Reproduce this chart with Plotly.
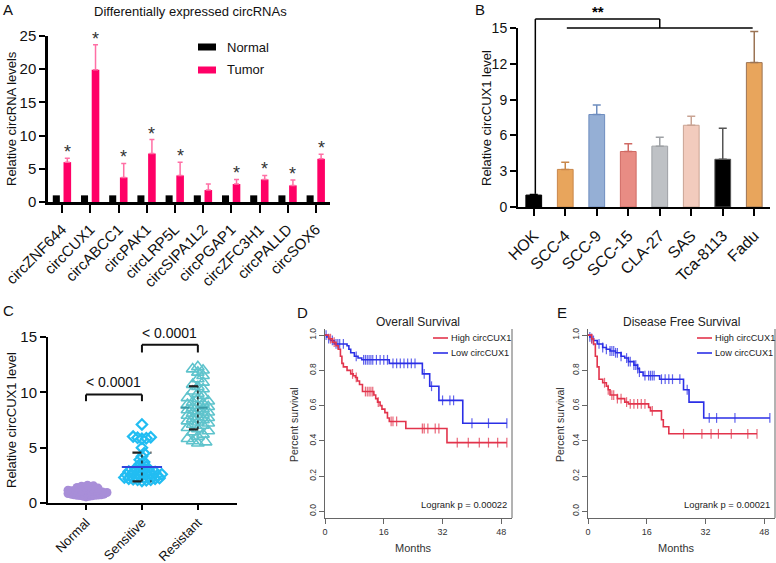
import plotly.graph_objects as go
import numpy as np

W, H = 776, 563
FONT = "Liberation Sans, Arial, sans-serif"

# ---------------- DATA ----------------
# Panel A
a_categories = ["circZNF644", "circCUX1", "circABCC1", "circPAK1", "circLRP5L",
                "circSIPA1L2", "circPGAP1", "circZFC3H1", "circPALLD", "circSOX6"]
a_normal = [1.0, 1.0, 1.0, 1.0, 1.0, 1.0, 1.0, 1.0, 1.0, 1.0]
a_tumor = [6.0, 19.9, 3.7, 7.3, 4.0, 1.8, 2.7, 3.4, 2.5, 6.5]
a_tumor_err = [0.6, 3.8, 2.1, 2.1, 2.0, 0.9, 0.7, 0.6, 0.8, 0.7]
a_signif = ["*", "*", "*", "*", "*", "", "*", "*", "*", "*"]

# Panel B
b_categories = ["HOK", "SCC-4", "SCC-9", "SCC-15", "CLA-27", "SAS", "Tca-8113", "Fadu"]
b_values = [1.0, 3.15, 7.75, 4.65, 5.1, 6.85, 4.0, 12.1]
b_err = [0.05, 0.6, 0.8, 0.65, 0.75, 0.75, 2.6, 2.6]

# Panel C
c_categories = ["Normal", "Sensitive", "Resistant"]
c_normal = [0.55, 0.6, 0.62, 0.65, 0.68, 0.7, 0.7, 0.72, 0.75, 0.75, 0.78, 0.8, 0.8, 0.82,
            0.85, 0.85, 0.88, 0.9, 0.9, 0.92, 0.95, 0.95, 0.98, 1.0, 1.0, 1.02, 1.05, 1.05,
            1.08, 1.1, 1.1, 1.12, 1.15, 1.18, 1.2, 1.22, 1.25, 1.28, 1.3, 1.32, 1.35, 1.38,
            1.4, 1.45, 1.5, 1.52, 1.55, 1.6]
c_sensitive = [2.0, 2.05, 2.1, 2.1, 2.15, 2.2, 2.2, 2.25, 2.3, 2.3, 2.35, 2.4, 2.4, 2.45,
               2.5, 2.5, 2.55, 2.6, 2.6, 2.65, 2.7, 2.7, 2.75, 2.8, 2.85, 2.9, 2.95, 3.0,
               3.1, 3.2, 3.3, 3.5, 3.7, 3.9, 4.2, 4.5, 5.0, 5.8, 5.85, 5.9, 5.95, 6.0, 7.1]
c_resistant = [5.4, 5.5, 5.6, 5.8, 6.0, 6.2, 6.4, 6.5, 6.7, 6.8, 7.0, 7.1, 7.2, 7.3, 7.4,
               7.5, 7.6, 7.7, 7.8, 7.9, 8.0, 8.1, 8.2, 8.3, 8.4, 8.5, 8.6, 8.7, 8.8, 8.9,
               9.0, 9.1, 9.2, 9.4, 9.5, 9.7, 9.9, 10.1, 10.3, 10.5, 10.7, 10.9, 11.2,
               11.5, 11.8, 12.0, 12.1, 12.3]
c_mean = [1.0, 3.25, 8.6]
c_sd = [0.3, 1.3, 1.95]
c_pvalues = ["< 0.0001", "< 0.0001"]

# Panel D (Overall survival)
d_high_t = [0, 1, 2, 3, 3.6, 4.2, 4.6, 5, 6, 7, 7.7, 8.3, 8.8, 9.4, 10.2, 13.3, 13.8, 14.3,
            15, 15.5, 16.3, 17, 17.5, 22, 33.2, 49.5]
d_high_s = [1.0, 0.98, 0.96, 0.94, 0.92, 0.88, 0.84, 0.82, 0.80, 0.78, 0.77, 0.76, 0.74,
            0.72, 0.68, 0.66, 0.64, 0.62, 0.60, 0.58, 0.56, 0.53, 0.51, 0.47, 0.39, 0.39]
d_low_t = [0, 0.5, 1, 1.5, 2.5, 6, 6.5, 7, 8, 9, 10, 17.5, 26.5, 28.5, 31, 37.5, 49.5]
d_low_s = [1.0, 0.99, 0.98, 0.97, 0.95, 0.94, 0.92, 0.90, 0.88, 0.87, 0.86, 0.84, 0.78,
           0.71, 0.63, 0.50, 0.50]
d_high_cens = [1.5, 2.5, 7.5, 8.5, 11, 11.5, 12, 12.5, 13, 14.5, 18, 18.5, 19.5, 26.5, 27,
               28, 30, 31, 36, 39, 42, 44.5, 47, 49.5]
d_low_cens = [0.3, 1, 2, 3, 3.5, 4, 5, 8.5, 10.5, 11, 11.5, 12, 12.5, 13, 14, 15, 16, 17,
              18.5, 19.5, 20.5, 21.5, 22.5, 23.5, 24.5, 27, 29, 32, 34, 35, 40, 44.5, 49.5]

# Panel E (Disease free survival)
e_high_t = [0, 1, 1.5, 2, 2.5, 3, 4, 5, 5.5, 6, 8, 10, 11, 16.5, 17, 20, 20.5, 22, 46]
e_high_s = [1.0, 0.98, 0.95, 0.88, 0.82, 0.75, 0.73, 0.71, 0.69, 0.66, 0.64, 0.62, 0.61,
            0.59, 0.57, 0.52, 0.48, 0.44, 0.44]
e_low_t = [0, 0.5, 1, 1.5, 2.5, 4, 5, 6, 7.5, 9, 10, 11, 12.5, 13.5, 14, 15, 19.5, 26, 27.5,
           31.5, 49.5]
e_low_s = [1.0, 0.99, 0.98, 0.97, 0.95, 0.93, 0.92, 0.91, 0.90, 0.88, 0.87, 0.85, 0.83,
           0.81, 0.79, 0.77, 0.75, 0.69, 0.62, 0.53, 0.53]
e_high_cens = [1, 4.5, 5.5, 6.5, 7, 8, 9, 10.5, 11.5, 12.5, 13.5, 14.5, 15.5, 17.5, 26, 31,
               33.5, 35.5, 39, 43.5, 46]
e_low_cens = [0.5, 1, 1.5, 3, 4, 5, 6, 6.5, 7, 7.5, 8, 9, 10.5, 11, 11.5, 12.5, 13, 13.5,
              14, 15.5, 16.5, 17, 17.5, 18, 20, 21, 22, 23, 25, 27, 33, 35, 40, 49.5]
km_months_ticks = [0, 16, 32, 48]
km_surv_ticks = [0.0, 0.2, 0.4, 0.6, 0.8, 1.0]

# ---------------- STYLE ----------------
B_FILL = ["#000000", "#E8A55C", "#95AFD5", "#E88C84", "#BEC1C5", "#F2CBBD", "#000000", "#E8A55C"]
B_EDGE = ["#000000", "#C9874A", "#6E8DBF", "#D06A64", "#9EA1A5", "#C9A393", "#555555", "#9B7455"]
RED = "#E2344C"
BLUE = "#2B2FE6"


def px(x, y):
    return x / W, 1 - y / H


def xdom(x0, x1):
    return [x0 / W, x1 / W]


def ydom(top, bottom):
    return [1 - bottom / H, 1 - top / H]


fig = go.Figure()
shapes = []
ann = []


def note(xx, yy, text, size, color="#111", xanchor="center", angle=0, yanchor="middle"):
    x, y = px(xx, yy)
    ann.append(dict(x=x, y=y, xref="paper", yref="paper", text=text, showarrow=False,
                    xanchor=xanchor, yanchor=yanchor, textangle=angle,
                    font=dict(size=size, color=color, family=FONT)))


# ---------------- Panel A ----------------
fig.add_trace(go.Bar(x=list(range(len(a_categories))), y=a_normal, width=0.25, offset=-0.33,
                     marker=dict(color="#000000", line=dict(width=0)),
                     xaxis="x", yaxis="y", showlegend=False))
fig.add_trace(go.Bar(x=list(range(len(a_categories))), y=a_tumor, width=0.27, offset=0.05,
                     marker=dict(color="#FF0066", line=dict(width=0)),
                     error_y=dict(type="data", symmetric=False, array=a_tumor_err,
                                  arrayminus=[0] * len(a_tumor), color="#FF6FA5",
                                  thickness=1.5, width=2.5),
                     xaxis="x", yaxis="y", showlegend=False))
for i, s in enumerate(a_signif):
    if s:
        ann.append(dict(x=i + 0.185, y=a_tumor[i] + a_tumor_err[i], xref="x", yref="y",
                        text=s, showarrow=False, xanchor="center", yanchor="bottom", yshift=-6,
                        font=dict(size=18, color="#333333", family=FONT)))
note(190, 11, "Differentially expressed circRNAs", 13)
# legend A
for k, (lab, col) in enumerate([("Normal", "#000000"), ("Tumor", "#FF0066")]):
    yc = 47 + 23 * k
    x0, y0 = px(198, yc - 3.5)
    x1, y1 = px(216, yc + 3.5)
    shapes.append(dict(type="rect", xref="paper", yref="paper", x0=x0, x1=x1, y0=y0, y1=y1,
                       fillcolor=col, line=dict(width=0)))
    note(225, yc, lab, 13, xanchor="left")

# ---------------- Panel B ----------------
for i, cat in enumerate(b_categories):
    fig.add_trace(go.Bar(x=[i], y=[b_values[i]], width=0.5,
                         marker=dict(color=B_FILL[i], line=dict(color=B_EDGE[i], width=1)),
                         error_y=dict(type="data", symmetric=False, array=[b_err[i]],
                                      arrayminus=[0], color=B_EDGE[i], thickness=1.5, width=4),
                         xaxis="x2", yaxis="y2", showlegend=False))
nB = len(b_categories)
bmax = 15.0


def bx(i):
    return (i + 0.5) / nB


def by(v):
    return v / bmax


top_v = 15.75
low_v = 15.0
bl = dict(color="#000", width=1.5)
shapes += [
    dict(type="line", xref="x2 domain", yref="y2 domain", x0=bx(0.05), x1=bx(0.05),
         y0=by(b_values[0] + 0.1), y1=by(top_v), line=bl),
    dict(type="line", xref="x2 domain", yref="y2 domain", x0=bx(0.05), x1=bx(4.0),
         y0=by(top_v), y1=by(top_v), line=bl),
    dict(type="line", xref="x2 domain", yref="y2 domain", x0=bx(4.0), x1=bx(4.0),
         y0=by(top_v), y1=by(low_v), line=bl),
    dict(type="line", xref="x2 domain", yref="y2 domain", x0=bx(1.05), x1=bx(6.95),
         y0=by(low_v), y1=by(low_v), line=bl),
]
ann.append(dict(x=bx(2.05), y=by(16.35), xref="x2 domain", yref="y2 domain", text="<b>**</b>",
                showarrow=False, xanchor="center", yanchor="middle",
                font=dict(size=15, color="#000", family=FONT)))

# ---------------- Panel C ----------------
XPU_C = 56.0
YPU_C = 11.07
C_YMAX = 15.0


def swarm(values, min_d, step):
    vals = np.asarray(values, dtype=float)
    order = np.argsort(vals, kind="stable")
    placed = []
    offs = np.zeros(len(vals))
    for idx in order:
        yp = vals[idx] * YPU_C
        k = 0
        while True:
            cands = [0.0] if k == 0 else [k * step, -k * step]
            done = False
            for c in cands:
                if all((c - a) ** 2 + (yp - b) ** 2 >= min_d ** 2 for a, b in placed):
                    offs[idx] = c
                    placed.append((c, yp))
                    done = True
                    break
            if done:
                break
            k += 1
    return offs / XPU_C


groups = [
    (c_normal, dict(symbol="circle", size=9, color="#A88ED8", line=dict(width=0)), 2.3, 1.5),
    (c_sensitive, dict(symbol="diamond-open", size=8, color="#22BDF2", line=dict(width=2.2)), 3.4, 2.2),
    (c_resistant, dict(symbol="triangle-up-open", size=11, color="#5EC3CC", line=dict(width=1.6)), 5.4, 2.6),
]
for gi, (vals, mk, md, st) in enumerate(groups):
    offs = swarm(vals, md, st)
    fig.add_trace(go.Scatter(x=gi + offs, y=vals, mode="markers", marker=mk,
                             xaxis="x3", yaxis="y3", showlegend=False, hoverinfo="skip"))

# mean / SD lines
mean_cols = [None, "#3344DD", "#3A9AA6"]
mean_dash = [None, "solid", "dash"]
mean_half = [0, 0.36, 0.31]
sd_half = [0, 0.17, 0.16]
for gi in [1, 2]:
    m, s = c_mean[gi], c_sd[gi]
    shapes.append(dict(type="line", xref="x3", yref="y3", x0=gi, x1=gi, y0=m - s, y1=m + s,
                       line=dict(color="#222", width=1.5, dash="dot")))
    shapes.append(dict(type="line", xref="x3", yref="y3", x0=gi - mean_half[gi], x1=gi + mean_half[gi],
                       y0=m, y1=m, line=dict(color=mean_cols[gi], width=2, dash=mean_dash[gi])))
    for yy in (m - s, m + s):
        shapes.append(dict(type="line", xref="x3", yref="y3", x0=gi - sd_half[gi], x1=gi + sd_half[gi],
                           y0=yy, y1=yy, line=dict(color="#222", width=2.2, dash="dash")))

# brackets
brk = [(0, 1, 9.8, 9.2, 10.9), (1, 2, 14.3, 13.6, 15.35)]
for (a, b, top, foot, ty), lab in zip(brk, c_pvalues):
    for xa, xb, ya, yb in [(a, a, foot, top), (a, b, top, top), (b, b, top, foot)]:
        shapes.append(dict(type="line", xref="x3", yref="y3", x0=xa, x1=xb, y0=ya, y1=yb,
                           line=dict(color="#111", width=2)))
    ann.append(dict(x=(a + b) / 2, y=ty / C_YMAX, xref="x3", yref="y3 domain", text=lab,
                    showarrow=False, xanchor="center", yanchor="middle",
                    font=dict(size=14, color="#111", family=FONT)))


# ---------------- Panels D, E ----------------
def surv_at(ts, ss, t):
    val = ss[0]
    for tt, sv in zip(ts, ss):
        if tt <= t:
            val = sv
    return val


km = [
    ("x4", "y4", d_high_t, d_high_s, d_high_cens, d_low_t, d_low_s, d_low_cens),
    ("x5", "y5", e_high_t, e_high_s, e_high_cens, e_low_t, e_low_s, e_low_cens),
]
for xa, ya, ht, hs, hc, lt, ls, lc in km:
    for t, s, c, col in [(lt, ls, lc, BLUE), (ht, hs, hc, RED)]:
        fig.add_trace(go.Scatter(x=t, y=s, mode="lines", line=dict(color=col, width=1.6, shape="hv"),
                                 xaxis=xa, yaxis=ya, showlegend=False, hoverinfo="skip"))
        fig.add_trace(go.Scatter(x=c, y=[surv_at(t, s, v) for v in c], mode="markers",
                                 marker=dict(symbol="line-ns", size=7, line=dict(color=col, width=1.2)),
                                 opacity=0.75, xaxis=xa, yaxis=ya, showlegend=False, hoverinfo="skip"))

km_panels = [("Overall Survival", "Logrank p = 0.00022", 418, 433, 512, 325),
             ("Disease Free Survival", "Logrank p = 0.00021", 681, 697, 775, 588)]
for title, lr, tx, lx, rx, lft in km_panels:
    note(tx, 322, title, 12, "#222")
    for k, (lab, col) in enumerate([("High circCUX1", RED), ("Low circCUX1", BLUE)]):
        yc = 338 + 15 * k
        x0, y0 = px(lx, yc)
        x1, _ = px(lx + 15, yc)
        shapes.append(dict(type="line", xref="paper", yref="paper", x0=x0, x1=x1, y0=y0, y1=y0,
                           line=dict(color=col, width=1.6)))
        note(lx + 16, yc, lab, 9.2, "#222", xanchor="left")
    note(rx - 3, 504, lr, 9.4, "#222", xanchor="right")
    note(lft + 88, 548, "Months", 11, "#333")
    # right frame line
    x0, y0 = px(rx, 329)
    _, y1 = px(rx, 518)
    shapes.append(dict(type="line", xref="paper", yref="paper", x0=x0, x1=x0, y0=y0, y1=y1,
                       line=dict(color="#666", width=1)))

# y titles
for text, xx, yy, sz, col in [("Relative circRNA levels", 11, 119, 13, "#111"),
                              ("Relative circCUX1 level", 486, 118, 13, "#111"),
                              ("Relative circCUX1 level", 11, 420, 13, "#111"),
                              ("Percent survival", 294, 425, 10.5, "#333"),
                              ("Percent survival", 560, 425, 10.5, "#333")]:
    note(xx, yy, text, sz, col, angle=-90)

# panel letters
for lab, xx, yy in [("A", 8, 9), ("B", 480, 9), ("C", 8, 310), ("D", 302, 312), ("E", 562, 312)]:
    note(xx, yy, lab, 15)


# ---------------- AXES ----------------
def bar_x(dom, cats, rng, size, tl=6, standoff=0):
    return dict(domain=dom, range=rng, tickmode="array", tickvals=list(range(len(cats))),
                ticktext=cats, tickangle=-45, ticks="outside", ticklen=tl, tickwidth=2,
                tickcolor="#000", showline=True, linecolor="#000", linewidth=2.5,
                showgrid=False, zeroline=False, fixedrange=True, automargin=False,
                ticklabelstandoff=standoff,
                tickfont=dict(size=size, color="#111", family=FONT))


def bar_y(dom, rng, dt, size):
    return dict(domain=dom, range=rng, tickmode="linear", tick0=0, dtick=dt, ticks="outside",
                ticklen=6, tickwidth=2, tickcolor="#000", showline=True, linecolor="#000",
                linewidth=2.5, showgrid=False, zeroline=False, fixedrange=True, automargin=False,
                tickfont=dict(size=size, color="#111", family=FONT))


def km_x(dom):
    return dict(domain=dom, range=[0, 50.9], tickmode="array", tickvals=km_months_ticks,
                ticks="outside", ticklen=5, tickwidth=1, tickcolor="#666", showline=True,
                linecolor="#666", linewidth=1, showgrid=False, zeroline=False, automargin=False,
                fixedrange=True, tickfont=dict(size=9, color="#333", family=FONT))


def km_y(dom):
    return dict(domain=dom, range=[-0.038, 1.035], tickmode="array", tickvals=km_surv_ticks,
                ticktext=[f"{v:.1f}" for v in km_surv_ticks], tickangle=-90,
                ticks="outside", ticklen=5, tickwidth=1, tickcolor="#666", showline=True,
                linecolor="#666", linewidth=1, showgrid=False, zeroline=False, automargin=False,
                fixedrange=True, tickfont=dict(size=8.5, color="#333", family=FONT))


fig.update_layout(
    width=W, height=H, margin=dict(l=0, r=0, t=0, b=0, autoexpand=False),
    paper_bgcolor="white", plot_bgcolor="white", barmode="overlay",
    font=dict(family=FONT), hovermode=False,
    xaxis=dict(bar_x(xdom(48, 330), a_categories, [-0.5, 9.5], 15, 8, 2), anchor="y"),
    yaxis=dict(bar_y(ydom(36, 202), [0, 25], 5, 15), anchor="x"),
    xaxis2=dict(bar_x(xdom(518, 770), b_categories, [-0.5, 7.5], 16, 7, 4), anchor="y2"),
    yaxis2=dict(bar_y(ydom(28, 207), [0, 15], 3, 14), anchor="x2"),
    xaxis3=dict(bar_x(xdom(48, 237), c_categories, [-0.68, 2.7], 13, 5, 0), anchor="y3"),
    yaxis3=dict(bar_y(ydom(337, 503), [0, C_YMAX], 5, 15), anchor="x3"),
    xaxis4=dict(km_x(xdom(325, 512)), anchor="y4"),
    yaxis4=dict(km_y(ydom(329, 518)), anchor="x4"),
    xaxis5=dict(km_x(xdom(588, 775)), anchor="y5"),
    yaxis5=dict(km_y(ydom(329, 518)), anchor="x5"),
    shapes=shapes, annotations=ann,
)
fig.update_layout(yaxis2=dict(linewidth=2), xaxis2=dict(linewidth=2),
                  yaxis3=dict(linewidth=2), xaxis3=dict(linewidth=2))

fig.write_html("out.html", config={"displayModeBar": False},
               post_script="document.body.style.margin='0px';")
